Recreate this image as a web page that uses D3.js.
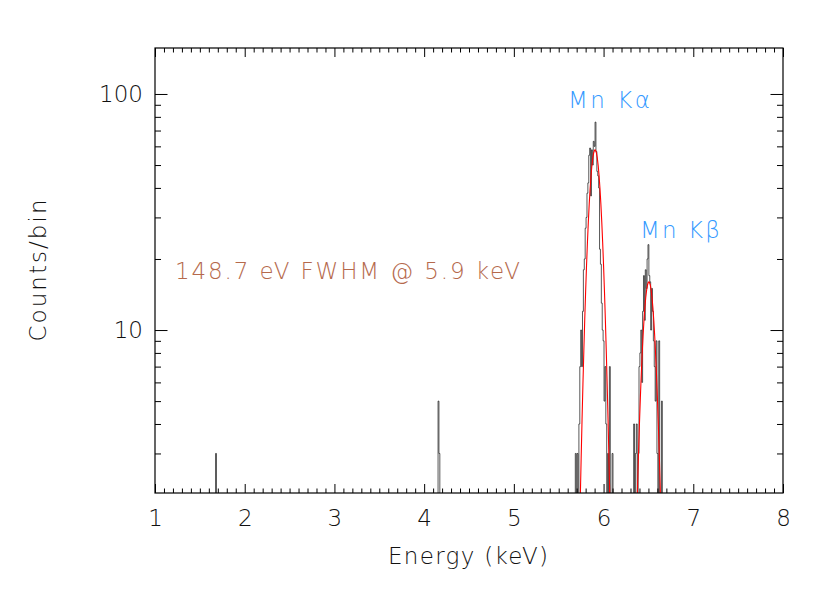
<!DOCTYPE html>
<html>
<head>
<meta charset="utf-8">
<script src="https://cdn.jsdelivr.net/npm/d3@7"></script>
<style>
  html, body { margin: 0; padding: 0; background: #fff; }
  svg text { font-family: "DejaVu Sans", sans-serif; font-weight: 200; }
</style>
</head>
<body>
<svg id="chart" width="830" height="593"></svg>
<script>
// ---------------- data ----------------
const binWidth = 0.01; // keV
const xDomain = [1, 8];
const yDomain = [2.04, 156.6];
const xTickValues = [1, 2, 3, 4, 5, 6, 7, 8];
const yTickValues = [10, 100];
const yMinorTicks = [3, 4, 5, 6, 7, 8, 9, 20, 30, 40, 50, 60, 70, 80, 90];

// Non-empty bins (energy in keV, counts per bin)
const isolatedEnergy = [1.68, 4.15, 4.16, 4.17];
const isolatedCounts = [3, 2, 5, 3];

const kaEnergy = [5.69, 5.70, 5.71, 5.72, 5.73, 5.74, 5.75, 5.76, 5.77, 5.78, 5.79,
  5.80, 5.81, 5.82, 5.83, 5.84, 5.85, 5.86, 5.87, 5.88, 5.89,
  5.90, 5.91, 5.92, 5.93, 5.94, 5.95, 5.96, 5.97, 5.98, 5.99,
  6.00, 6.01, 6.02, 6.03, 6.04, 6.05, 6.06, 6.07, 6.08, 6.09, 6.10];
const kaCounts = [3, 0, 3, 2, 4, 7, 10, 7, 12, 18, 20,
  27, 30, 38, 42, 55, 59, 37, 58, 50, 63,
  60, 76, 57, 47, 45, 40, 22, 19, 13, 10,
  9, 5, 7, 4, 2, 3, 0, 7, 2, 0, 3];

const kbEnergy = [6.34, 6.35, 6.36, 6.37, 6.38, 6.39, 6.40, 6.41, 6.42, 6.43, 6.44,
  6.45, 6.46, 6.47, 6.48, 6.49, 6.50, 6.51, 6.52, 6.53, 6.54,
  6.55, 6.56, 6.57, 6.58, 6.59, 6.60, 6.61, 6.62, 6.63, 6.64, 6.65];
const kbCounts = [4, 0, 3, 4, 0, 3, 7, 8, 10, 6, 12,
  17, 11, 18, 15, 20, 23, 17, 16, 10, 15,
  12, 9, 7, 5, 9, 3, 2, 9, 0, 2, 5];

// Gaussian fit (from the plot): centres, amplitudes, common FWHM
const fitCenters = [5.905, 6.505];
const fitAmps = [58, 16];
const fitFWHM = 0.1487; // keV
const fitEnergyRange = [5.60, 6.80];

const annotation = "148.7 eV FWHM @ 5.9 keV";
const xLabel = "Energy (keV)";
const yLabel = "Counts/bin";

// ---------------- layout ----------------
const L = 155, R = 783, T = 48, B = 493;
const FS = 23;
const svg = d3.select("#chart");
const x = d3.scaleLinear().domain(xDomain).range([L, R]);
const y = d3.scaleLog().domain(yDomain).range([B, T]).clamp(false);

svg.append("defs").append("clipPath").attr("id", "clip")
  .append("rect").attr("x", L).attr("y", T).attr("width", R - L).attr("height", B - T);

// full histogram with empty bins
const nBins = Math.round((xDomain[1] - xDomain[0]) / binWidth) + 1;
const counts = new Array(nBins).fill(0);
function put(es, cs) { es.forEach((e, i) => { counts[Math.round((e - xDomain[0]) / binWidth)] = cs[i]; }); }
put(isolatedEnergy, isolatedCounts);
put(kaEnergy, kaCounts);
put(kbEnergy, kbCounts);
const hist = counts.map((c, i) => ({ e: xDomain[0] + i * binWidth, c: Math.max(c, 1) }));

const stepLine = d3.line()
  .x(d => x(d.e)).y(d => y(d.c))
  .curve(d3.curveStep);

const plotG = svg.append("g").attr("clip-path", "url(#clip)");
plotG.append("path").datum(hist)
  .attr("d", stepLine)
  .attr("fill", "none").attr("stroke", "#111").attr("stroke-width", 0.7);

// fit curve sampled at bin centres
const sigma = fitFWHM / (2 * Math.sqrt(2 * Math.log(2)));
const fitPts = hist.filter(d => d.e >= fitEnergyRange[0] - 1e-9 && d.e <= fitEnergyRange[1] + 1e-9).map(d => {
  let v = 0;
  fitCenters.forEach((c, k) => { v += fitAmps[k] * Math.exp(-((d.e - c) ** 2) / (2 * sigma * sigma)); });
  return { e: d.e, v: Math.max(v, 0.5) };
});
plotG.append("path").datum(fitPts)
  .attr("d", d3.line().x(d => x(d.e)).y(d => y(d.v)))
  .attr("fill", "none").attr("stroke", "#ff0000").attr("stroke-width", 1.1);

// ---------------- axes ----------------
const xMinor = d3.range(xDomain[0], xDomain[1] + 1e-9, 0.1).map(v => +v.toFixed(2)).filter(v => Math.abs(v - Math.round(v)) > 1e-6);
svg.append("g").attr("transform", `translate(0,${B})`)
  .call(d3.axisBottom(x).tickValues(xTickValues).tickSize(-9).tickPadding(17).tickFormat(d3.format("d")));
svg.append("g").attr("transform", `translate(0,${B})`)
  .call(d3.axisBottom(x).tickValues(xMinor).tickSize(-4.5).tickFormat(""));
svg.append("g").attr("transform", `translate(0,${T})`)
  .call(d3.axisTop(x).tickValues(xTickValues).tickSize(-9).tickFormat(""));
svg.append("g").attr("transform", `translate(0,${T})`)
  .call(d3.axisTop(x).tickValues(xMinor).tickSize(-4.5).tickFormat(""));
svg.append("g").attr("transform", `translate(${L},0)`)
  .call(d3.axisLeft(y).tickValues(yTickValues).tickSize(-12.5).tickPadding(12).tickFormat(d3.format("d")));
svg.append("g").attr("transform", `translate(${L},0)`)
  .call(d3.axisLeft(y).tickValues(yMinorTicks).tickSize(-6).tickFormat(""));
svg.append("g").attr("transform", `translate(${R},0)`)
  .call(d3.axisRight(y).tickValues(yTickValues).tickSize(-12.5).tickFormat(""));
svg.append("g").attr("transform", `translate(${R},0)`)
  .call(d3.axisRight(y).tickValues(yMinorTicks).tickSize(-6).tickFormat(""));

svg.selectAll(".domain").remove();
svg.selectAll(".tick line").attr("stroke", "#000").attr("stroke-width", 1);
svg.selectAll(".tick text").attr("fill", "#111").style("font-size", FS + "px")
  .style("font-family", '"DejaVu Sans", sans-serif').style("font-weight", 200);

svg.append("rect").attr("x", L).attr("y", T).attr("width", R - L).attr("height", B - T)
  .attr("fill", "none").attr("stroke", "#000").attr("stroke-width", 1.2);

// ---------------- labels ----------------
svg.append("text").attr("x", (L + R) / 2 - 1).attr("y", 564).attr("text-anchor", "middle")
  .attr("fill", "#111").style("font-size", FS + "px")
  .attr("textLength", 160).attr("lengthAdjust", "spacing").text(xLabel);
svg.append("text").attr("transform", `translate(46,${(T + B) / 2}) rotate(-90)`).attr("text-anchor", "middle")
  .attr("fill", "#111").style("font-size", FS + "px")
  .attr("textLength", 142).attr("lengthAdjust", "spacing").text(yLabel);

svg.append("text").attr("x", 175).attr("y", 279).attr("fill", "#b5694c")
  .style("font-size", FS + "px").attr("textLength", 345).attr("lengthAdjust", "spacing").text(annotation);

svg.append("text").attr("x", 568).attr("y", 108).attr("fill", "#3399ff")
  .style("font-size", FS + "px").attr("textLength", 82).attr("lengthAdjust", "spacing").text("Mn Kα");
svg.append("text").attr("x", 640).attr("y", 238).attr("fill", "#3399ff")
  .style("font-size", FS + "px").attr("textLength", 80).attr("lengthAdjust", "spacing").text("Mn Kβ");
</script>
</body>
</html>
